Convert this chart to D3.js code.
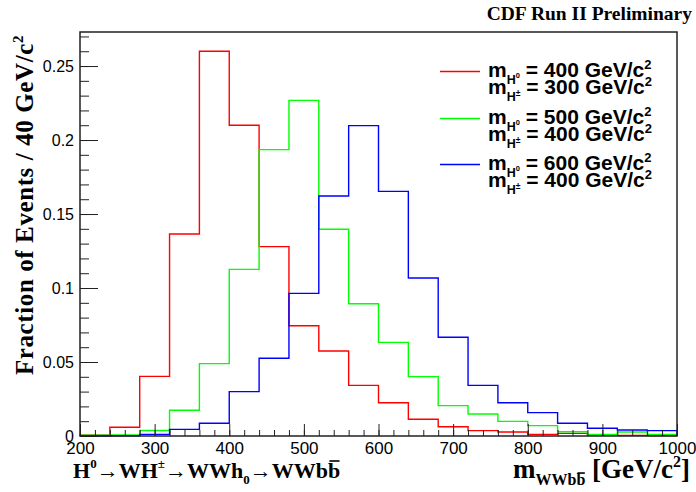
<!DOCTYPE html>
<html>
<head>
<meta charset="utf-8">
<script src="https://cdn.jsdelivr.net/npm/d3@7"></script>
<style>
  body { margin: 0; background: #fff; }
  svg { display: block; }
</style>
</head>
<body>
<svg id="chart" width="696" height="492"></svg>
<script>
// bin edges of the histograms (GeV/c^2), 40 GeV bins
const binEdges = [200, 240, 280, 320, 360, 400, 440, 480, 520, 560, 600,
                  640, 680, 720, 760, 800, 840, 880, 920, 960, 1000];

// fraction of events per bin
const redValues   = [0.0005, 0.0059, 0.0403, 0.1365, 0.2600, 0.2100, 0.1280, 0.0745, 0.0574, 0.0342,
                     0.0225, 0.0113, 0.0063, 0.0036, 0.0027, 0.0011, 0.0018, 0.0006, 0.0004, 0.0003];
const greenValues = [0.0005, 0.0007, 0.0037, 0.0174, 0.0489, 0.1126, 0.1935, 0.2268, 0.1397, 0.0894,
                     0.0633, 0.0401, 0.0205, 0.0149, 0.0099, 0.0070, 0.0029, 0.0011, 0.0027, 0.0011];
const blueValues  = [0.0000, 0.0002, 0.0011, 0.0045, 0.0086, 0.0300, 0.0525, 0.0964, 0.1622, 0.2097,
                     0.1653, 0.1068, 0.0667, 0.0342, 0.0225, 0.0158, 0.0086, 0.0052, 0.0041, 0.0036];

const h0Masses  = ["400", "500", "600"];
const hpmMasses = ["300", "400", "400"];
const colors    = ["#ff0000", "#00ff00", "#0000ff"];

const xTicks = [200, 300, 400, 500, 600, 700, 800, 900, 1000];
const yTicks = [0, 0.05, 0.1, 0.15, 0.2, 0.25];

const svg = d3.select("#chart");

const frame = { left: 80, right: 677, top: 32, bottom: 436 };

const x = d3.scaleLinear().domain([200, 1000]).range([frame.left, frame.right]);
const y = d3.scaleLinear().domain([0, 0.273]).range([frame.bottom, frame.top]);

// histograms
const histPath = (values) => {
  const p = d3.path();
  p.moveTo(x(binEdges[0]), y(0));
  values.forEach((v, i) => {
    p.lineTo(x(binEdges[i]), y(v));
    p.lineTo(x(binEdges[i + 1]), y(v));
  });
  p.lineTo(x(binEdges[binEdges.length - 1]), y(0));
  return p.toString();
};

svg.append("g")
  .attr("fill", "none")
  .attr("stroke-width", 1.4)
  .selectAll("path")
  .data([redValues, greenValues, blueValues])
  .join("path")
  .attr("stroke", (d, i) => colors[i])
  .attr("d", d => histPath(d));

// axes (ticks inside the frame, ROOT style)
const axisStyle = g => {
  g.select(".domain").remove();
  g.selectAll(".tick line").attr("stroke", "#222").attr("stroke-width", 1);
  g.selectAll(".tick text")
    .attr("fill", "#000")
    .attr("font-family", "'Liberation Sans', Arial, sans-serif");
};

svg.append("g")
  .attr("transform", `translate(0,${frame.bottom})`)
  .call(d3.axisBottom(x).tickValues(d3.range(200, 1001, 20)).tickSize(-6).tickFormat(""))
  .call(axisStyle);

svg.append("g")
  .attr("transform", `translate(0,${frame.bottom})`)
  .call(d3.axisBottom(x).tickValues(xTicks).tickSize(-12).tickPadding(6).tickFormat(d3.format("d")))
  .call(axisStyle)
  .call(g => g.selectAll(".tick text").attr("font-size", 17).attr("dy", "0.71em"));

svg.append("g")
  .attr("transform", `translate(${frame.left},0)`)
  .call(d3.axisLeft(y).tickValues(d3.range(0, 0.2701, 0.01)).tickSize(-9).tickFormat(""))
  .call(axisStyle);

svg.append("g")
  .attr("transform", `translate(${frame.left},0)`)
  .call(d3.axisLeft(y).tickValues(yTicks).tickSize(-18).tickPadding(6)
    .tickFormat(d => d === 0 ? "0" : String(+d.toFixed(2))))
  .call(axisStyle)
  .call(g => g.selectAll(".tick text").attr("font-size", 16));

// frame
svg.append("rect")
  .attr("x", frame.left).attr("y", frame.top)
  .attr("width", frame.right - frame.left).attr("height", frame.bottom - frame.top)
  .attr("fill", "none").attr("stroke", "#222").attr("stroke-width", 1.5);

// rich text helper: parts = [text, size, baseline shift, overline]
const richText = (sel, parts) => {
  let prev = 0;
  const bars = [];
  parts.forEach(([t, size, shift, bar]) => {
    const ts = sel.append("tspan").attr("font-size", size).attr("dy", shift - prev).text(t);
    if (bar) bars.push(ts.node());
    prev = shift;
  });
  // overlines drawn by hand from the glyph extents
  const node = sel.node();
  const parent = d3.select(node.parentNode);
  bars.forEach(ts => {
    const kids = Array.from(node.childNodes);
    const idx = kids.slice(0, kids.indexOf(ts)).reduce((s, n) => s + n.textContent.length, 0);
    const ext = node.getExtentOfChar(idx);
    parent.append("line")
      .attr("transform", sel.attr("transform"))
      .attr("x1", ext.x + ext.width * 0.12).attr("x2", ext.x + ext.width * 0.95)
      .attr("y1", ext.y + ext.height * 0.12).attr("y2", ext.y + ext.height * 0.12)
      .attr("stroke", "#000").attr("stroke-width", 1.6);
  });
};

// legend
const legend = svg.append("g").attr("font-family", "'Liberation Sans', Arial, sans-serif")
  .attr("font-weight", "bold");

colors.forEach((c, i) => {
  const ly = Math.round(71 + i * 46.7) + 0.5;
  legend.append("line")
    .attr("x1", 440).attr("x2", 480).attr("y1", ly).attr("y2", ly)
    .attr("stroke", c).attr("stroke-width", 1.3);
  const t1 = legend.append("text").attr("x", 488).attr("y", ly + 5);
  richText(t1, [["m", 21, 0], ["H", 12.5, 7], ["0", 7.5, 1], [" = " + h0Masses[i] + " GeV/c", 21, 0], ["2", 13, -8]]);
  const t2 = legend.append("text").attr("x", 488).attr("y", ly + 22);
  richText(t2, [["m", 21, 0], ["H", 12.5, 7], ["±", 8.5, 2], [" = " + hpmMasses[i] + " GeV/c", 21, 0], ["2", 13, -8]]);
});

// titles
const serif = "'Liberation Serif', 'Times New Roman', serif";

svg.append("text")
  .attr("x", 692).attr("y", 20)
  .attr("text-anchor", "end")
  .attr("font-family", serif).attr("font-weight", "bold").attr("font-size", 19.5)
  .text("CDF Run II Preliminary");

const yTitle = svg.append("text")
  .attr("transform", "translate(33,35) rotate(-90)")
  .attr("text-anchor", "end")
  .attr("font-family", serif).attr("font-weight", "bold")
  .attr("letter-spacing", 0.6);
richText(yTitle, [["Fraction of Events / 40 GeV/c", 25, 0], ["2", 15, -10]]);

const xTitle = svg.append("text")
  .attr("x", 690).attr("y", 478)
  .attr("text-anchor", "end")
  .attr("font-family", serif).attr("font-weight", "bold");
richText(xTitle, [["m", 27, 0], ["WWb", 16, 7], ["b", 16, 7, true], [" [GeV/c", 27, 0], ["2", 16, -11], ["]", 27, 0]]);

const decay = svg.append("text")
  .attr("x", 73).attr("y", 478)
  .attr("font-family", serif).attr("font-weight", "bold");
richText(decay, [["H", 22, 0], ["0", 13, -10], ["\u2192", 22, 0], ["WH", 22, 0], ["\u00b1", 13, -10],
  ["\u2192", 22, 0], ["WWh", 22, 0], ["0", 13, 6], ["\u2192", 22, 0], ["WWb", 22, 0], ["b", 22, 0, true]]);
</script>
</body>
</html>
